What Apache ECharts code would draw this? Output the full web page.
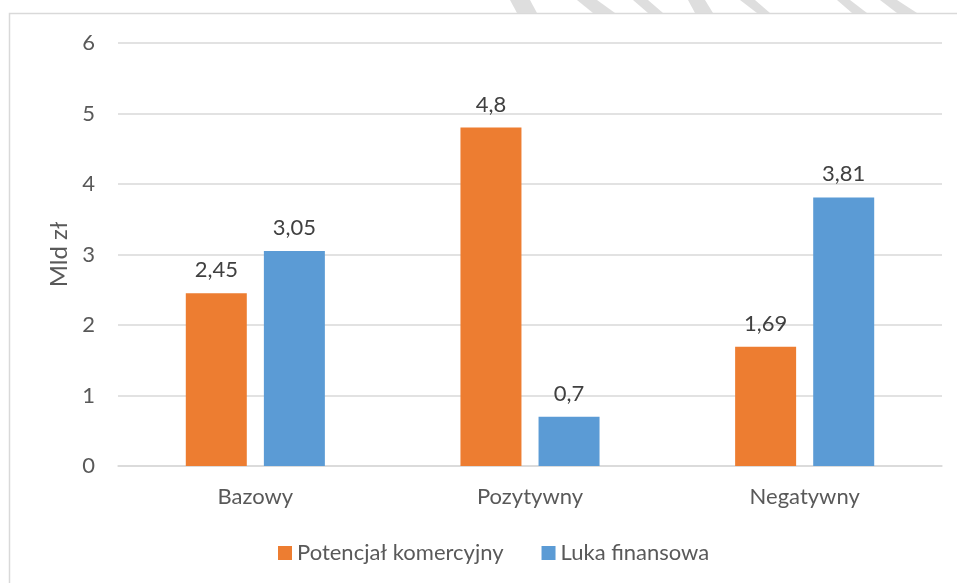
<!DOCTYPE html>
<html>
<head>
<meta charset="utf-8">
<script src="https://cdn.jsdelivr.net/npm/echarts@6/dist/echarts.min.js"></script>
<style>
  html, body { margin: 0; padding: 0; background: #ffffff; }
  #chart { width: 957px; height: 583px; }
</style>
</head>
<body>
<div id="chart"></div>
<script>
// Scenario categories and series values (billion PLN)
const categories = ['Bazowy', 'Pozytywny', 'Negatywny'];
const potencjal = [2.45, 4.8, 1.69];
const luka = [3.05, 0.7, 3.81];
const seriesNames = ['Potencjał komercyjny', 'Luka finansowa'];
const yTicks = [0, 1, 2, 3, 4, 5, 6];

const FONT = 'Lato, "Open Sans", sans-serif';
const fmt = v => String(v).replace('.', ',');

// Light grey diagonal stripes along the top edge
const stripes = [
  [[510, 0], [530, 0], [537, 13], [517, 13]],
  [[577, 0], [597, 0], [615, 13], [593, 13]],
  [[633, 0], [648, 0], [663, 13], [648, 13]],
  [[688, 0], [705, 0], [713, 13], [695, 13]],
  [[740, 0], [755, 0], [770, 13], [757, 13]],
  [[837, 0], [850, 0], [867, 13], [852, 13]],
  [[880, 0], [897, 0], [917, 13], [897, 13]]
].map(pts => ({
  type: 'polygon',
  shape: { points: pts },
  style: { fill: '#dedede' },
  silent: true
}));

const chart = echarts.init(document.getElementById('chart'), null, { renderer: 'canvas' });

const valueLabel = {
  show: true, position: 'top', distance: 12,
  color: '#404040', fontSize: 22, fontFamily: FONT,
  formatter: p => fmt(p.value)
};

chart.setOption({
  backgroundColor: '#ffffff',
  animation: false,
  graphic: [
    {
      type: 'rect',
      shape: { x: 9.5, y: 13.5, width: 980, height: 600 },
      style: { fill: 'none', stroke: '#d9d9d9', lineWidth: 1.5 },
      silent: true
    }
  ].concat(stripes),
  grid: { left: 118, right: 15, top: 43, bottom: 117, containLabel: false },
  legend: {
    data: seriesNames,
    top: 537,
    left: 273,
    icon: 'rect',
    itemWidth: 14,
    itemHeight: 14,
    itemGap: 38,
    textStyle: { color: '#595959', fontSize: 22, fontFamily: FONT }
  },
  xAxis: {
    type: 'category',
    data: categories,
    axisLine: { lineStyle: { color: '#d9d9d9', width: 1.5 } },
    axisTick: { show: false },
    axisLabel: { color: '#595959', fontSize: 22, fontFamily: FONT, margin: 20 }
  },
  yAxis: {
    type: 'value',
    min: yTicks[0],
    max: yTicks[yTicks.length - 1],
    interval: 1,
    name: 'Mld zł',
    nameLocation: 'middle',
    nameGap: 44,
    nameRotate: 90,
    nameTextStyle: { color: '#595959', fontSize: 24, fontFamily: FONT },
    axisLine: { show: false },
    axisTick: { show: false },
    axisLabel: { color: '#595959', fontSize: 22, fontFamily: FONT, margin: 23 },
    splitLine: { lineStyle: { color: '#d9d9d9', width: 1.5 } }
  },
  series: [
    {
      name: seriesNames[0],
      type: 'bar',
      data: potencjal,
      barWidth: 61,
      barGap: '28%',
      itemStyle: { color: '#ed7d31' },
      label: valueLabel
    },
    {
      name: seriesNames[1],
      type: 'bar',
      data: luka,
      barWidth: 61,
      itemStyle: { color: '#5b9bd5' },
      label: valueLabel
    }
  ]
});
</script>
</body>
</html>
